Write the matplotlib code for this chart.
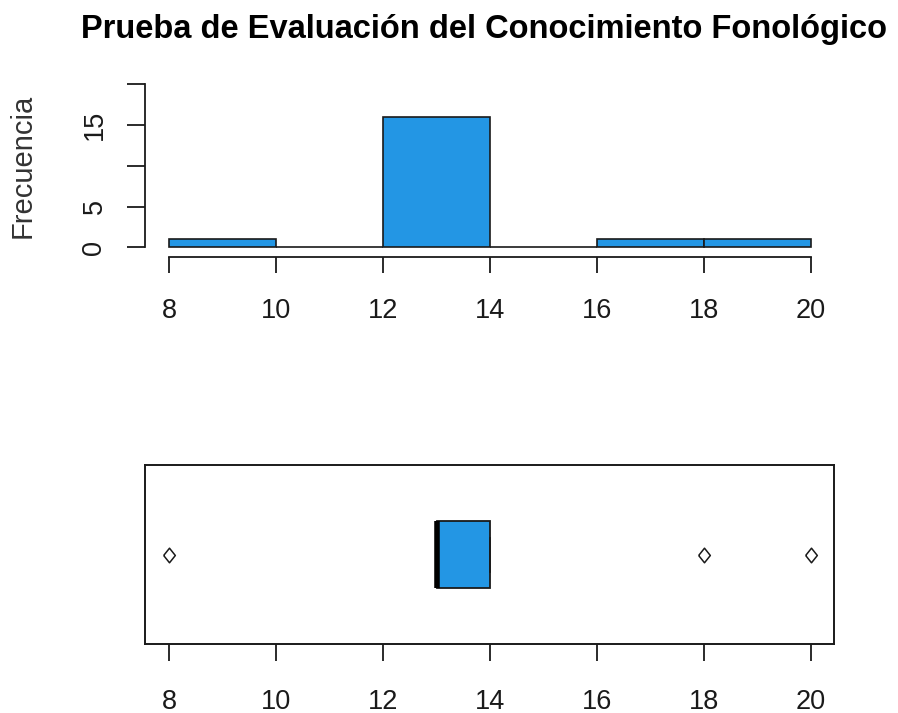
import matplotlib
matplotlib.use("Agg")
import matplotlib.pyplot as plt
import numpy as np

plt.rcParams['font.family'] = ['Liberation Sans', 'DejaVu Sans']

# Datos
bin_edges = [8, 10, 12, 14, 16, 18, 20]
counts = [1, 0, 16, 0, 1, 1]
scores = [8, 13, 13, 13, 13, 13, 13, 13, 13, 13, 13,
          14, 14, 14, 14, 14, 14, 18, 20]
x_ticks = [8, 10, 12, 14, 16, 18, 20]
y_ticks = [0, 5, 10, 15, 20]
y_tick_labels = ['0', '5', '', '15', '']

title = "Prueba de Evaluación del Conocimiento Fonológico"
ylabel = "Frecuencia"

BLUE = '#2396E4'
INK = '#1a1a1a'
W, H = 898, 713

fig = plt.figure(figsize=(W / 100, H / 100), dpi=100)

# Ejes en píxeles (medidos en la imagen)
left_px, right_px = 145, 834.3
ax_h = fig.add_axes([left_px / W, 1 - 257 / H, (right_px - left_px) / W, (257 - 77.8) / H])
ax_b = fig.add_axes([left_px / W, 1 - 644.3 / H, (right_px - left_px) / W, (644.3 - 465) / H])

xlim = (7.545, 20.44)

# --- Histograma ---
widths = np.diff(bin_edges)
ax_h.bar(bin_edges[:-1], counts, width=widths, align='edge', color=BLUE,
         edgecolor=INK, linewidth=1.2)
ax_h.set_xlim(*xlim)
ax_h.set_ylim(-1.19, 20.8)
for s in ['top', 'right']:
    ax_h.spines[s].set_visible(False)
ax_h.spines['left'].set_bounds(0, 20)
ax_h.spines['bottom'].set_bounds(8, 20)
for s in ['left', 'bottom']:
    ax_h.spines[s].set_linewidth(1.3)
    ax_h.spines[s].set_color(INK)
ax_h.set_xticks(x_ticks)
ax_h.set_xticklabels([str(t) for t in x_ticks])
ax_h.set_yticks(y_ticks)
ax_h.set_yticklabels(y_tick_labels, rotation=90, va='center')
ax_h.tick_params(axis='x', length=11.5, width=1.3, pad=18, labelsize=19.5, colors=INK)
ax_h.tick_params(axis='y', length=13, width=1.3, pad=14, labelsize=19.5, colors=INK)

# --- Diagrama de caja ---
ax_b.boxplot(scores, vert=False, positions=[1], widths=0.407, patch_artist=True,
             boxprops=dict(facecolor=BLUE, edgecolor=INK, linewidth=1.3),
             medianprops=dict(color='black', linewidth=4),
             whiskerprops=dict(color=INK, linewidth=1.3, linestyle='--'),
             capprops=dict(color=INK, linewidth=1.3),
             flierprops=dict(marker=[(-0.8, 0), (0, 1), (0.8, 0), (0, -1), (-0.8, 0)],
                             markersize=10.5, markerfacecolor='white',
                             markeredgecolor=INK, markeredgewidth=1.1))
ax_b.set_xlim(*xlim)
ax_b.set_ylim(0.46, 1.54)
ax_b.set_yticks([])
ax_b.set_xticks(x_ticks)
ax_b.set_xticklabels([str(t) for t in x_ticks])
for s in ax_b.spines.values():
    s.set_linewidth(1.4)
    s.set_color(INK)
ax_b.tick_params(axis='x', length=12, width=1.3, pad=20, labelsize=19.5, colors=INK)

# Títulos
fig.text(484 / W, 1 - 38.3 / H, title, ha='center', va='baseline',
         fontsize=23.5, fontweight='bold', color='black')
fig.text(23 / W, 1 - 166 / H, ylabel, rotation=90, ha='center', va='center',
         fontsize=21, color='#333333')

fig.savefig("out.png", dpi=100)
